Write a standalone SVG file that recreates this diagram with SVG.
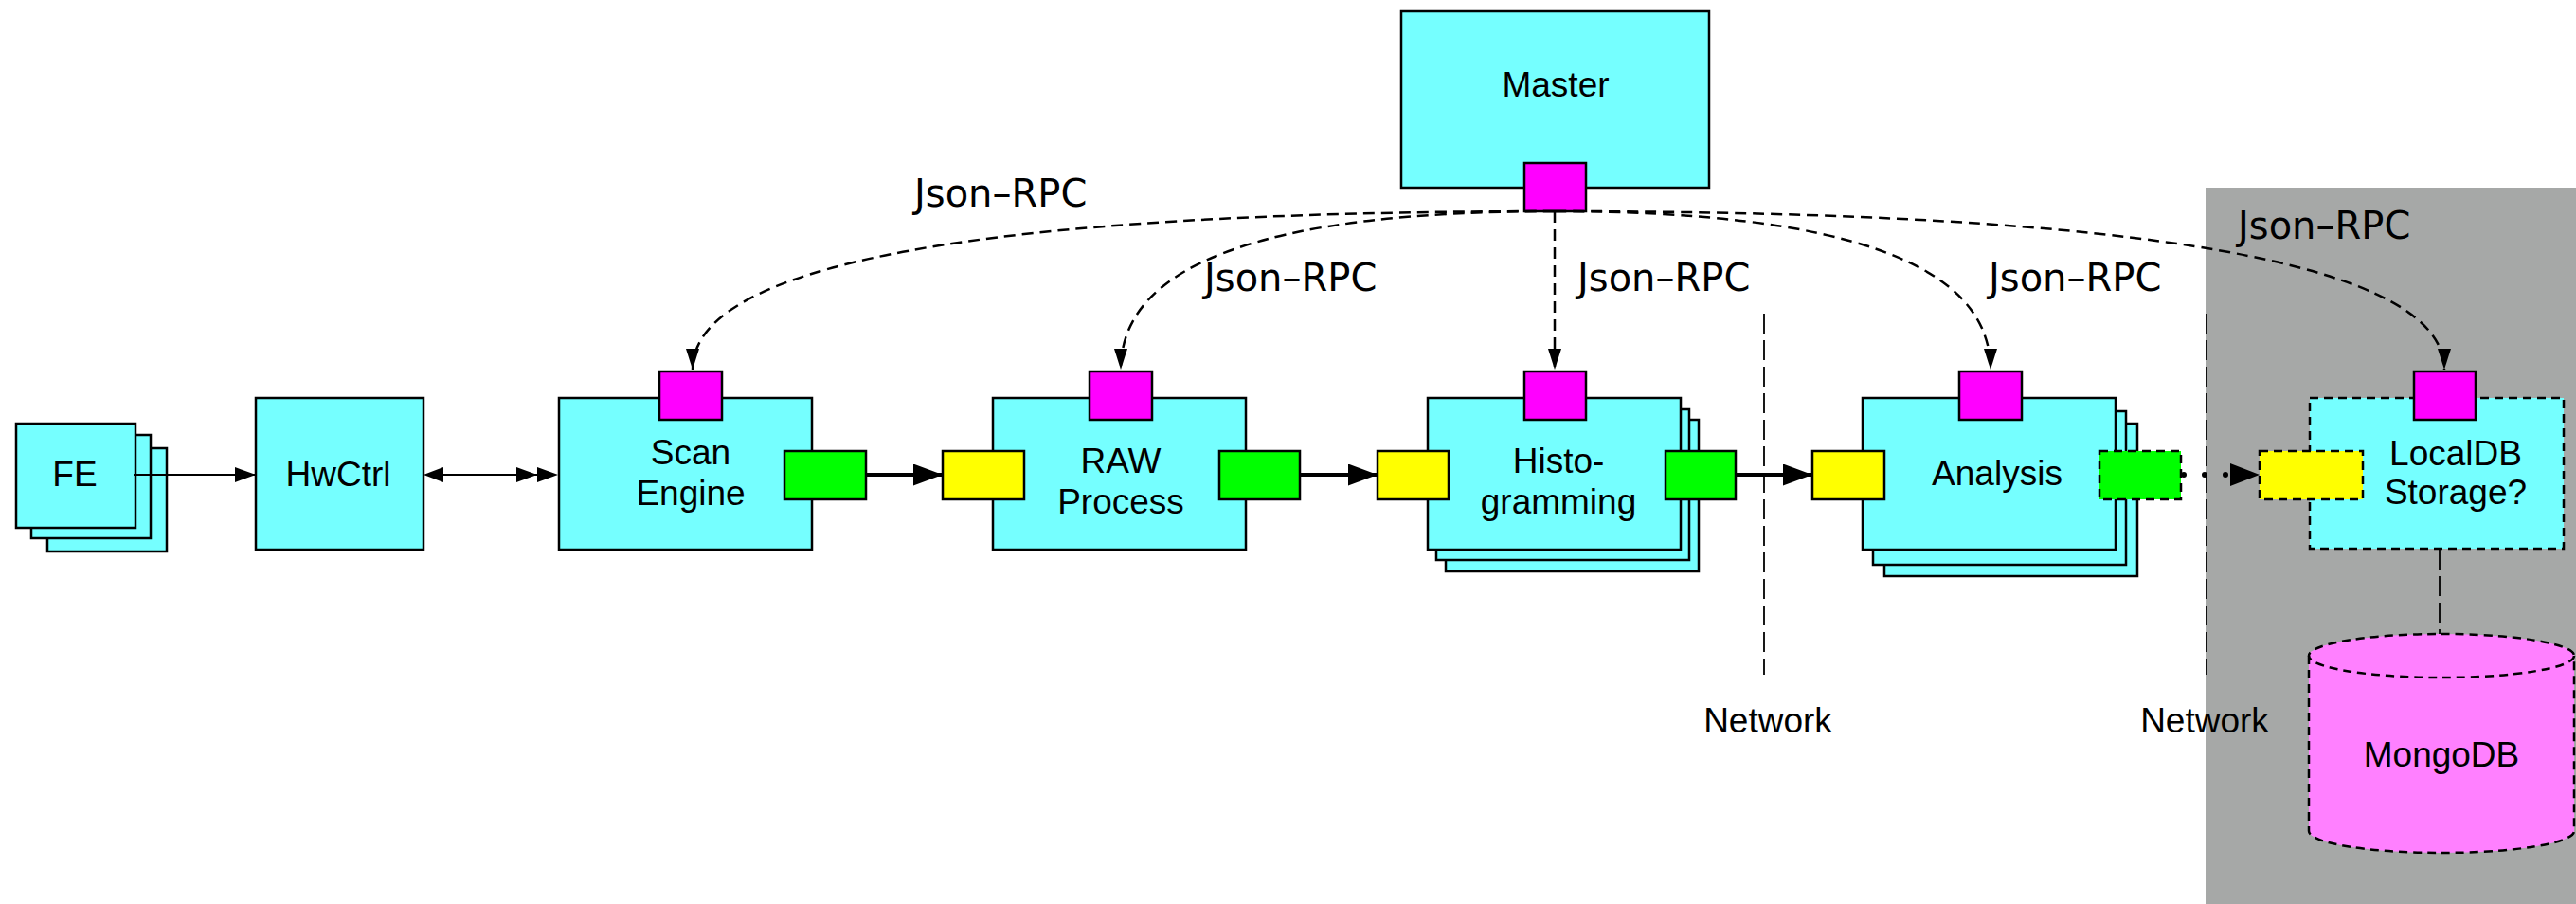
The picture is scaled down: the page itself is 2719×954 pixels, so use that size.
<svg xmlns="http://www.w3.org/2000/svg" width="2719" height="954" viewBox="0 0 2719 954">
<style>
.box{fill:#75ffff;stroke:#000;stroke-width:2.5}
.dbox{fill:#75ffff;stroke:#000;stroke-width:2.5;stroke-dasharray:9 6}
.mag{fill:#ff00ff;stroke:#000;stroke-width:2.5}
.grn{fill:#00ff00;stroke:#000;stroke-width:2.5}
.yel{fill:#ffff00;stroke:#000;stroke-width:2.5}
.dgrn{fill:#00ff00;stroke:#000;stroke-width:2.5;stroke-dasharray:9 6}
.dyel{fill:#ffff00;stroke:#000;stroke-width:2.5;stroke-dasharray:9 6}
.dline{stroke:#000;stroke-width:2.5;stroke-dasharray:9 6}
.lbl{font-family:"Liberation Sans",Arial,Helvetica,sans-serif;font-size:37px;fill:#000;text-anchor:middle}
.rpc{font-family:"DejaVu Sans","Liberation Sans",sans-serif;font-size:40px;fill:#000}
.rpcline{fill:none;stroke:#000;stroke-width:2.5;stroke-dasharray:12 7}
.net{fill:none;stroke:#000;stroke-width:1.8;stroke-dasharray:21 7}
.thin{fill:none;stroke:#000;stroke-width:2}
.thick{fill:none;stroke:#000;stroke-width:4}
</style>
<defs>
<marker id="hThin" markerUnits="userSpaceOnUse" markerWidth="24" markerHeight="18" refX="22" refY="8" orient="auto"><path d="M0,0 L22,8 L0,16 Z" fill="#000"/></marker>
<marker id="hThick" markerUnits="userSpaceOnUse" markerWidth="32" markerHeight="24" refX="31" refY="11.5" orient="auto"><path d="M0,0 L31,11.5 L0,23 Z" fill="#000"/></marker>
<marker id="hRpc" markerUnits="userSpaceOnUse" markerWidth="24" markerHeight="16" refX="22" refY="7" orient="auto"><path d="M0,0 L22,7 L0,14 Z" fill="#000"/></marker>
</defs>

<rect id="remote-area" x="2328" y="198" width="391" height="756" fill="#a6a8a7"/>

<g id="network-lines">
<line class="net" x1="1862" y1="331" x2="1862" y2="712"/>
<line class="net" x1="2329" y1="331" x2="2329" y2="712"/>
<text class="lbl" x="1866" y="773">Network</text>
<text class="lbl" x="2327" y="773">Network</text>
</g>

<g id="master">
<rect class="box" x="1479" y="12" width="325" height="186"/>
<text class="lbl" x="1642" y="102">Master</text>
<rect class="mag" x="1609" y="172" width="65" height="51"/>
</g>

<g id="fe">
<rect class="box" x="50" y="473" width="126" height="109"/>
<rect class="box" x="33" y="459" width="126" height="109"/>
<rect class="box" x="17" y="447" width="126" height="110"/>
<text class="lbl" x="79" y="513">FE</text>
</g>

<g id="hwctrl">
<rect class="box" x="270" y="420" width="177" height="160"/>
<text class="lbl" x="357" y="513">HwCtrl</text>
</g>

<g id="scan-engine">
<rect class="box" x="590" y="420" width="267" height="160"/>
<rect class="mag" x="696" y="392" width="66" height="51"/>
<rect class="grn" x="828" y="476" width="86" height="51"/>
<text class="lbl" x="729"><tspan x="729" y="490">Scan</tspan><tspan x="729" y="533">Engine</tspan></text>
</g>

<g id="raw-process">
<rect class="box" x="1048" y="420" width="267" height="160"/>
<rect class="mag" x="1150" y="392" width="66" height="51"/>
<rect class="yel" x="995" y="476" width="86" height="51"/>
<rect class="grn" x="1287" y="476" width="85" height="51"/>
<text class="lbl" x="1183"><tspan x="1183" y="499">RAW</tspan><tspan x="1183" y="542">Process</tspan></text>
</g>

<g id="histogramming">
<rect class="box" x="1526" y="443" width="267" height="160"/>
<rect class="box" x="1516" y="432" width="267" height="159"/>
<rect class="box" x="1507" y="420" width="267" height="160"/>
<rect class="mag" x="1609" y="392" width="65" height="51"/>
<rect class="yel" x="1454" y="476" width="75" height="51"/>
<rect class="grn" x="1758" y="476" width="74" height="51"/>
<text class="lbl" x="1645"><tspan x="1645" y="499">Histo-</tspan><tspan x="1645" y="542">gramming</tspan></text>
</g>

<g id="analysis">
<rect class="box" x="1989" y="447" width="267" height="161"/>
<rect class="box" x="1977" y="434" width="267" height="162"/>
<rect class="box" x="1966" y="420" width="267" height="160"/>
<rect class="mag" x="2068" y="392" width="66" height="51"/>
<rect class="yel" x="1913" y="476" width="76" height="51"/>
<rect class="dgrn" x="2216" y="476" width="86" height="51"/>
<text class="lbl" x="2108" y="512">Analysis</text>
</g>

<g id="localdb-storage">
<rect class="dbox" x="2438" y="420" width="268" height="159"/>
<rect class="mag" x="2548" y="392" width="65" height="51"/>
<rect class="dyel" x="2385" y="476" width="109" height="51"/>
<text class="lbl" x="2592"><tspan x="2592" y="491">LocalDB</tspan><tspan x="2592" y="532">Storage?</tspan></text>
</g>

<g id="mongodb">
<path d="M2437,692 L2437,877 A140,23 0 0 0 2717,877 L2717,692 Z" fill="#ff80ff"/>
<ellipse class="dline" cx="2577" cy="692" rx="140" ry="23" fill="#ff80ff"/>
<path class="dline" d="M2437,692 L2437,877 A140,23 0 0 0 2717,877 L2717,692" fill="none"/>
<text class="lbl" x="2577" y="809">MongoDB</text>
</g>

<g id="connectors">
<line class="thin" x1="141" y1="501" x2="270" y2="501" marker-end="url(#hThin)"/>
<line class="thin" x1="468" y1="501" x2="568" y2="501"/>
<path d="M468,493 L447,501 L468,509 Z" fill="#000"/>
<path d="M545,493 L567,501 L545,509 Z" fill="#000"/>
<path d="M567,493 L589,501 L567,509 Z" fill="#000"/>
<line class="thick" x1="914" y1="501" x2="995" y2="501" marker-end="url(#hThick)"/>
<line class="thick" x1="1372" y1="501" x2="1454" y2="501" marker-end="url(#hThick)"/>
<line class="thick" x1="1832" y1="501" x2="1913" y2="501" marker-end="url(#hThick)"/>
<line x1="2305" y1="501" x2="2352" y2="501" stroke="#000" stroke-width="6" stroke-linecap="round" stroke-dasharray="0 22"/>
<path d="M2354,489 L2385,501 L2354,513 Z" fill="#000"/>
<path class="rpcline" d="M1641,223 Q731,223 731,390" marker-end="url(#hRpc)"/>
<path class="rpcline" d="M1641,223 Q1183,223 1183,390" marker-end="url(#hRpc)"/>
<path class="rpcline" d="M1641,223 L1641,390" marker-end="url(#hRpc)"/>
<path class="rpcline" d="M1641,223 Q2101,223 2101,390" marker-end="url(#hRpc)"/>
<path class="rpcline" d="M1641,223 Q2580,223 2580,390" marker-end="url(#hRpc)"/>
<line class="net" x1="2575" y1="580" x2="2575" y2="669"/>
<text class="rpc" x="965" y="218">Json–RPC</text>
<text class="rpc" x="1271" y="307">Json–RPC</text>
<text class="rpc" x="1665" y="307">Json–RPC</text>
<text class="rpc" x="2099" y="307">Json–RPC</text>
<text class="rpc" x="2362" y="252">Json–RPC</text>
</g>
</svg>
